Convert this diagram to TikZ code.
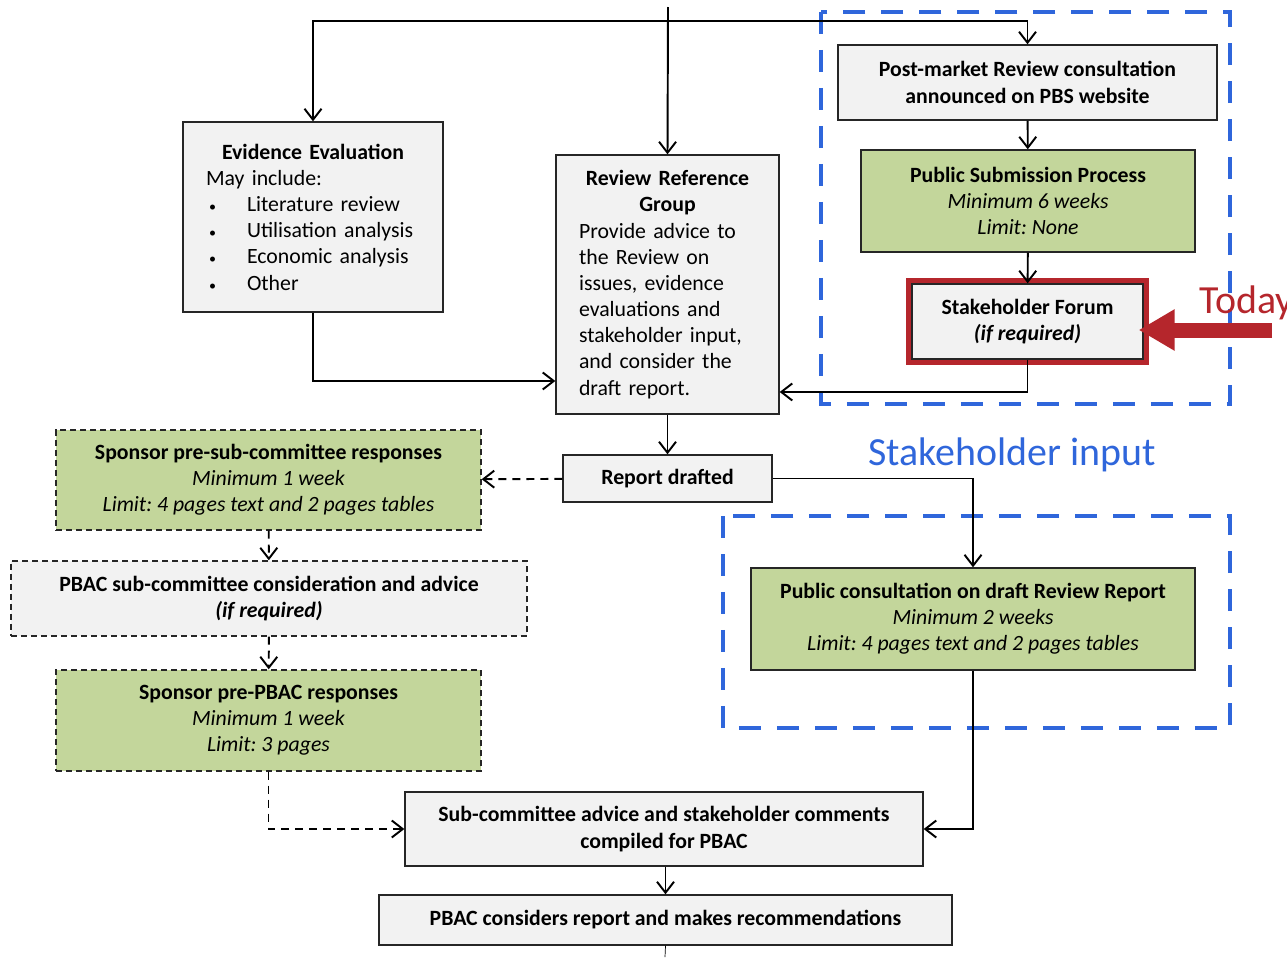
\documentclass[tikz,border=0pt]{standalone}
\usepackage{fontspec}
\setmainfont{Carlito}
\usepackage{tikz}
\usetikzlibrary{arrows,arrows.meta}
\frenchspacing

\definecolor{boxgray}{HTML}{F2F2F2}
\definecolor{boxgreen}{HTML}{C3D69B}
\definecolor{dashblue}{HTML}{2F66DB}
\definecolor{todayred}{HTML}{B5262C}
\newcommand{\evbullet}{\makebox[0.82cm][l]{\hspace{0.06cm}{\footnotesize\textbullet}}}

\begin{document}
\begin{tikzpicture}[x=0.02cm,y=-0.02cm,>={Straight Barb[length=0.22cm,width=0.34cm]}]
\tikzstyle{box}=[draw=black!85,line width=0.8pt,fill=boxgray,inner sep=0pt,align=center,font=\fontsize{12.4}{14.9}\selectfont]
\tikzstyle{greenbox}=[box,fill=boxgreen]
\tikzstyle{optional}=[dash pattern=on 0.12cm off 0.08cm]
\tikzstyle{link}=[->,line width=1.1pt]
\tikzstyle{optlink}=[->,line width=1.1pt,dash pattern=on 0.16cm off 0.12cm]
\tikzstyle{stage}=[dashblue,line width=0.09cm,dash pattern=on 0.44cm off 0.32cm]
\useasboundingbox (0,0) rectangle (1287,957);
\clip (0,0) rectangle (1287,957);

% review group and evidence
\node[box,minimum width=5.2cm,minimum height=3.8cm,text width=4.28cm,align=left] (1) at (313,217) {\makebox[\linewidth]{\textbf{Evidence Evaluation}}\\May include:\\\evbullet Literature review\\\evbullet Utilisation analysis\\\evbullet Economic analysis\\\evbullet Other\par\vspace{0.2cm}};
\node[box,minimum width=4.46cm,minimum height=5.18cm,text width=3.54cm,align=left] (2) at (667.5,284.5) {\makebox[\linewidth]{\textbf{Review Reference}}\\\makebox[\linewidth]{\textbf{Group}}\\Provide advice to\\the Review on\\issues, evidence\\evaluations and\\stakeholder input,\\and consider the\\draft report.};

% consultation column
\node[box,minimum width=7.58cm,minimum height=1.5cm] (3) at (1027.5,82.5) {\textbf{Post-market Review consultation}\\\textbf{announced on PBS website}};
\node[greenbox,minimum width=6.68cm,minimum height=2.04cm] (4) at (1028,201) {\textbf{Public Submission Process}\\\textit{Minimum 6 weeks}\\\textit{Limit: None}};
\node[box,minimum width=4.62cm,minimum height=1.5cm] (5) at (1027.5,321.5) {\textbf{Stakeholder Forum}\\\textbf{\textit{(if required)}}};
\draw[todayred,line width=0.1cm] ([xshift=-0.06cm,yshift=-0.06cm]5.south west) rectangle ([xshift=0.06cm,yshift=0.06cm]5.north east);

% report and sponsor responses
\node[box,minimum width=4.18cm,minimum height=0.94cm] (6) at (667.5,478.5) {\textbf{Report drafted}};
\node[greenbox,optional,minimum width=8.5cm,minimum height=2.0cm] (7) at (268.5,480) {\textbf{Sponsor pre-sub-committee responses}\\\textit{Minimum 1 week}\\\textit{Limit: 4 pages text and 2 pages tables}};
\node[box,optional,minimum width=10.32cm,minimum height=1.5cm] (8) at (269,598.5) {\textbf{PBAC sub-committee consideration and advice}\\\textbf{\textit{(if required)}}};
\node[greenbox,optional,minimum width=8.5cm,minimum height=2.02cm] (9) at (268.5,720.5) {\textbf{Sponsor pre-PBAC responses}\\\textit{Minimum 1 week}\\\textit{Limit: 3 pages}};
\node[greenbox,minimum width=8.88cm,minimum height=2.04cm] (10) at (973,619) {\textbf{Public consultation on draft Review Report}\\\textit{Minimum 2 weeks}\\\textit{Limit: 4 pages text and 2 pages tables}};
\node[box,minimum width=10.36cm,minimum height=1.48cm] (11) at (664,829) {\textbf{Sub-committee advice and stakeholder comments}\\\textbf{compiled for PBAC}};
\node[box,minimum width=11.46cm,minimum height=1.0cm] (12) at (665.5,920) {\textbf{PBAC considers report and makes recommendations}};

% stakeholder input areas
\draw[stage] (821,12) rectangle (1230,404);
\draw[stage] (723,516) rectangle (1230,728);
\node[text=dashblue,font=\fontsize{22.7}{27}\selectfont,anchor=base west,inner sep=0pt] (13) at (868,465) {Stakeholder input};
\node[text=todayred,font=\fontsize{22.7}{27}\selectfont,anchor=base west,inner sep=0pt] (14) at (1199,313) {Today};

\coordinate (0) at (668,7);
\coordinate (0a) at (668,21);
\coordinate (15) at (1272,330);
\coordinate (16) at (665,957);

\draw[link] (0) -- (2.north);
\draw[link] (0a) -| (1.north);
\draw[link] (0a) -| (3.north);
\draw[link] (1.south) |- ([yshift=-1.93cm]2.west);
\draw[link] (3) -- (4);
\draw[link] (4) -- (5);
\draw[link] (5.south) |- ([yshift=-2.15cm]2.east);
\draw[link] (2) -- (6);
\draw[optlink] (6) -- (7);
\draw[link] (6.east) -| (10.north);
\draw[optlink] (7) -- (8);
\draw[optlink] (8) -- (9);
\draw[optlink] (9.south) |- (11.west);
\draw[link] (10.south) |- (11.east);
\draw[link] (11.south -| 12.north) -- (12.north);
\draw (12.south) -- (16);
\draw[todayred,line width=0.3cm,shorten >=-0.1cm,-{Triangle[length=0.72cm,width=0.78cm]}] (15) -- (15 -| 5.east);
\end{tikzpicture}
\end{document}
